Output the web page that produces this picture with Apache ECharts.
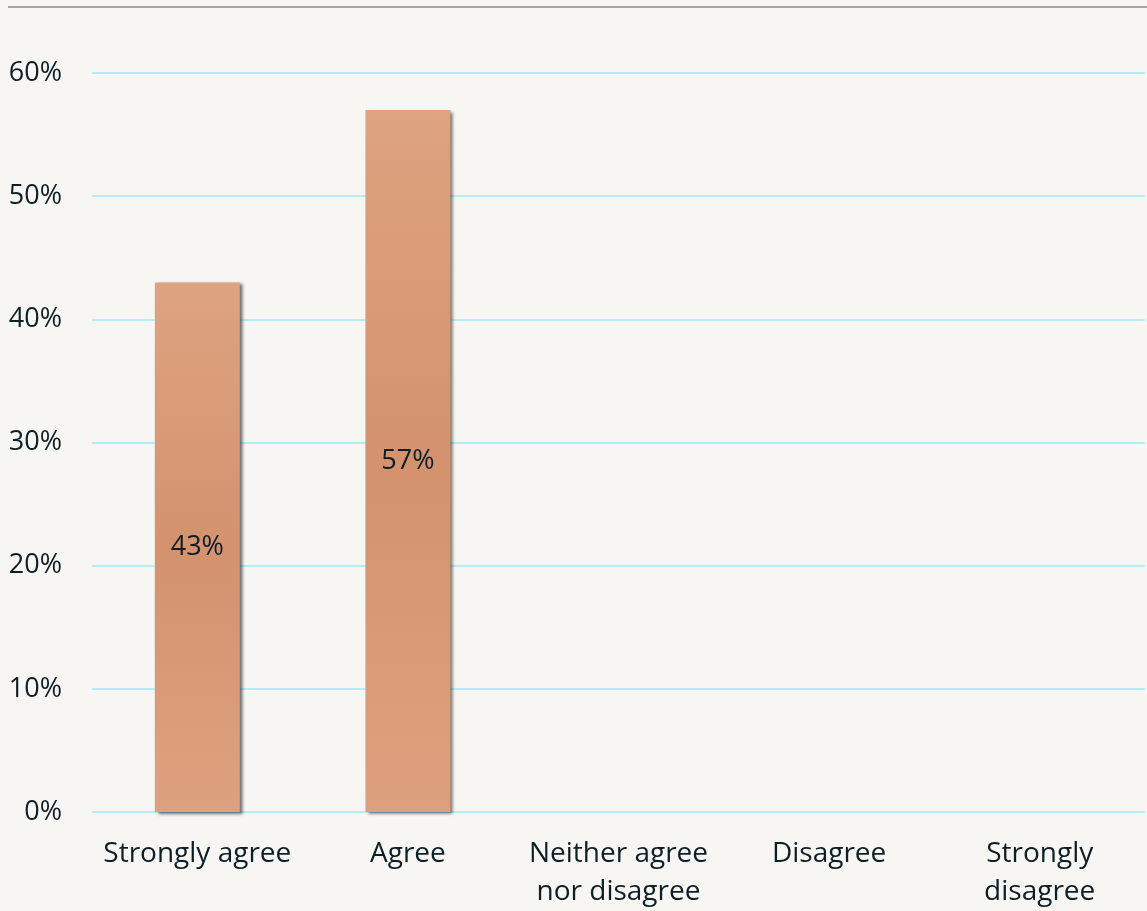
<!DOCTYPE html>
<html><head><meta charset="utf-8">
<script src="https://cdn.jsdelivr.net/npm/echarts@6/dist/echarts.min.js"></script>
<style>html,body{margin:0;padding:0;background:#f7f6f3;overflow:hidden;}#c{width:1147px;height:911px;}</style>
</head><body><div id="c"></div>
<script>
const categories = ['Strongly agree', 'Agree', 'Neither agree\nnor disagree', 'Disagree', 'Strongly\ndisagree'];
const values = [43, 57, null, null, null];
const yTicks = { min: 0, max: 60, interval: 10 };

const chart = echarts.init(document.getElementById('c'), null, { width: 1147, height: 911 });
const font = '"Open Sans", sans-serif';
chart.setOption({
  backgroundColor: '#f7f6f3',
  animation: false,
  graphic: [{
    type: 'line', shape: { x1: 8, y1: 7, x2: 1147, y2: 7 },
    style: { stroke: '#a6a6a6', lineWidth: 2 }
  }],
  grid: { left: 92, width: 1053, top: 73, height: 743, containLabel: false },
  xAxis: {
    type: 'category', data: categories,
    axisLine: { show: false }, axisTick: { show: false },
    axisLabel: { interval: 0, color: '#0d1f26', fontSize: 28, fontFamily: font, margin: 23, lineHeight: 38 }
  },
  yAxis: {
    type: 'value', min: yTicks.min, max: yTicks.max, interval: yTicks.interval,
    axisLine: { show: false }, axisTick: { show: false },
    axisLabel: { color: '#0d1f26', fontSize: 27, fontFamily: font, margin: 30, formatter: '{value}%' },
    splitLine: { lineStyle: { color: '#b5ecf6', width: 2 } }
  },
  series: [{
    type: 'bar', data: values, barWidth: 85,
    itemStyle: {
      color: new echarts.graphic.LinearGradient(0, 0, 0, 1, [
        { offset: 0, color: '#dea381' },
        { offset: 0.5, color: '#d4926e' },
        { offset: 1, color: '#dea17f' }
      ]),
      shadowColor: 'rgba(0,0,0,0.55)', shadowBlur: 3, shadowOffsetX: 3, shadowOffsetY: 2
    },
    label: { show: true, position: 'inside', formatter: '{c}%', color: '#0d1f26', fontSize: 27, fontFamily: font }
  }]
});
</script></body></html>
